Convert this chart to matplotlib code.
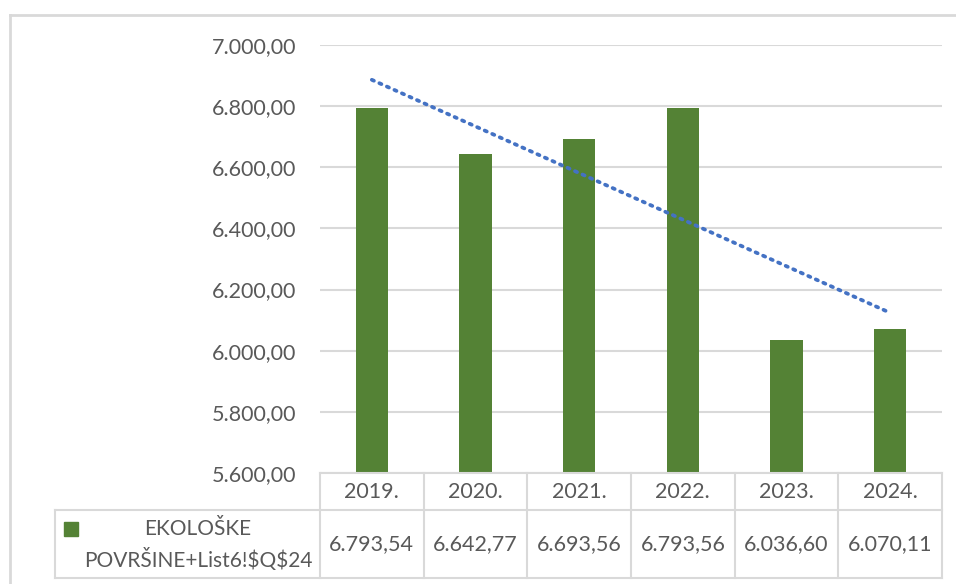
import matplotlib
matplotlib.use("Agg")
import matplotlib.pyplot as plt
import matplotlib.transforms as mtransforms
from matplotlib.lines import Line2D
from matplotlib.patches import Rectangle
import numpy as np

categories = ["2019.", "2020.", "2021.", "2022.", "2023.", "2024."]
values = [6793.54, 6642.77, 6693.56, 6793.56, 6036.60, 6070.11]
value_labels = ["6.793,54", "6.642,77", "6.693,56", "6.793,56", "6.036,60", "6.070,11"]
series_name = ["EKOLOŠKE", "POVRŠINE+List6!\\$Q\\$24"]
yticks = [5600, 5800, 6000, 6200, 6400, 6600, 6800, 7000]

plt.rcParams['font.family'] = ['Lato', 'DejaVu Sans']
W, H = 956, 584
fig = plt.figure(figsize=(W / 100, H / 100), dpi=100)
FS = 15.5
TC = "#595959"

def fx(px):
    return px / W

def fy(py):
    return 1 - py / H

ax = fig.add_axes([fx(320), fy(473), fx(942) - fx(320), fy(45) - fy(473)])
x = np.arange(len(categories))
bar_color = "#548235"
ax.bar(x, values, width=0.31, color=bar_color, zorder=3)

# linear trend line
coef = np.polyfit(x, values, 1)
trend = np.polyval(coef, x)
ax.plot(x, trend, linestyle=(0, (0.6, 1.6)), color="#4472C4", linewidth=2.7,
        dash_capstyle="round", zorder=4)

ax.set_xlim(-0.5, len(categories) - 0.5)
ax.set_ylim(5600, 7000)
ax.set_yticks(yticks)
ax.set_yticklabels([f"{v:,.2f}".replace(",", "X").replace(".", ",").replace("X", ".") for v in yticks])
ax.tick_params(axis="y", length=0, pad=17, labelsize=FS, labelcolor=TC)
ax.set_xticks([])
ax.grid(axis="y", color="#D9D9D9", linewidth=1.5, zorder=0)
for s in ax.spines.values():
    s.set_visible(False)

grid_c = "#D9D9D9"
bt = mtransforms.blended_transform_factory(ax.transData, fig.transFigure)
ft = fig.transFigure

# outer chart border (top and left)
fig.add_artist(Line2D([fx(10), 1.0], [fy(15), fy(15)], color="#D9D9D9", linewidth=2, transform=ft))
fig.add_artist(Line2D([fx(10), fx(10)], [fy(15), 0], color="#D9D9D9", linewidth=2, transform=ft))

y_top, y_mid, y_bot = fy(473), fy(510), fy(578)
n = len(categories)
right_px = 942
# horizontal table lines
fig.add_artist(Line2D([-0.5, n - 0.5], [y_top, y_top], color=grid_c, linewidth=1.5, transform=bt))
fig.add_artist(Line2D([fx(55), fx(right_px)], [y_mid, y_mid], color=grid_c, linewidth=1.5, transform=ft))
fig.add_artist(Line2D([fx(55), fx(right_px)], [y_bot, y_bot], color=grid_c, linewidth=1.5, transform=ft))
# vertical table lines
for i in range(n + 1):
    fig.add_artist(Line2D([i - 0.5, i - 0.5], [y_top, y_bot], color=grid_c, linewidth=1.5, transform=bt))
fig.add_artist(Line2D([fx(55), fx(55)], [y_mid, y_bot], color=grid_c, linewidth=1.5, transform=ft))

for i, (c, v) in enumerate(zip(categories, value_labels)):
    fig.text(i, fy(492), c, transform=bt, ha="center", va="center", fontsize=FS, color=TC)
    fig.text(i, fy(544), v, transform=bt, ha="center", va="center", fontsize=FS, color=TC)

fig.add_artist(Rectangle((fx(64), fy(536)), fx(14), fy(522) - fy(536), color=bar_color, transform=ft))
fig.text(fx(198), fy(529), series_name[0], ha="center", va="center", fontsize=15, color=TC)
fig.text(fx(198), fy(560), series_name[1], ha="center", va="center", fontsize=15, color=TC)

fig.savefig("out.png", dpi=100)
